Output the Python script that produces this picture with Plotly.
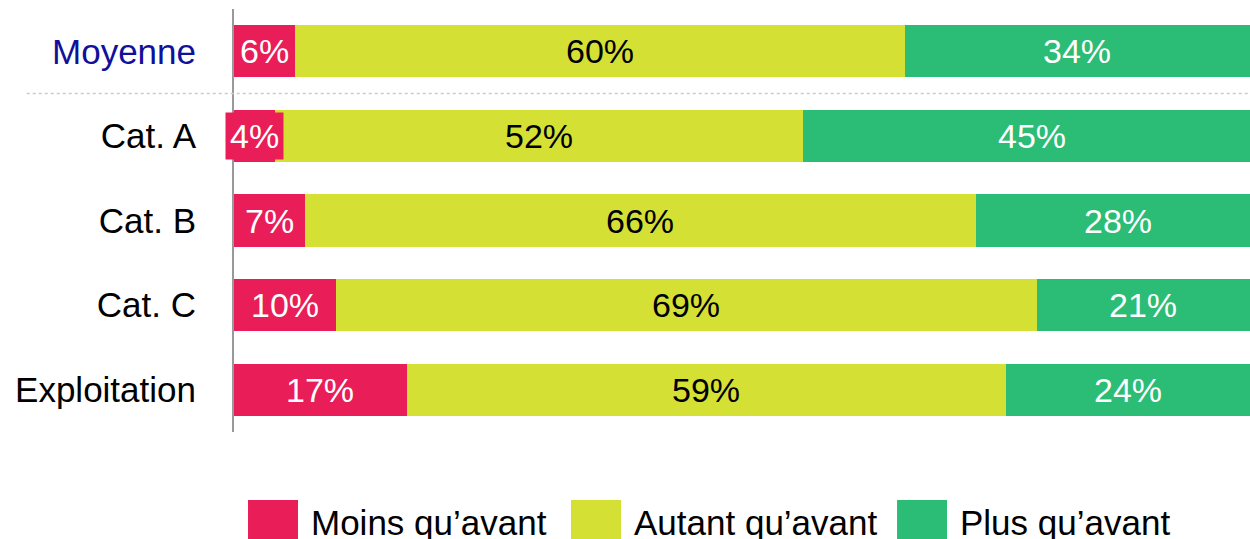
import plotly.graph_objects as go

categories = ["Moyenne", "Cat. A", "Cat. B", "Cat. C", "Exploitation"]
series_names = ["Moins qu\u2019avant", "Autant qu\u2019avant", "Plus qu\u2019avant"]
moins = [6, 4, 7, 10, 17]
autant = [60, 52, 66, 69, 59]
plus = [34, 45, 28, 21, 24]

colors = ["#E91D58", "#D5E035", "#2BBC75"]
text_colors = ["white", "black", "white"]
FONT = "Liberation Sans, Arial, sans-serif"
FS = 35
VFS = 34

series = [moins, autant, plus]

fig = go.Figure()
for name, vals, col in zip(series_names, series, colors):
    fig.add_trace(go.Bar(
        y=categories, x=vals, name=name, orientation="h",
        marker=dict(color=col, line=dict(width=0)),
        showlegend=False, hoverinfo="x+name",
    ))

# value labels centred on each segment
annotations = []
for i, cat in enumerate(categories):
    start = 0
    for s, (vals, col, tc) in enumerate(zip(series, colors, text_colors)):
        v = vals[i]
        annotations.append(dict(
            x=start + v / 2, y=cat, xref="x", yref="y",
            text=f"{v}%", showarrow=False,
            font=dict(family=FONT, size=VFS, color=tc),
            bgcolor=col if s == 0 else None, borderpad=4,
        ))
        start += v

# custom legend
leg_x = [0.0138, 0.3317, 0.6526]
sq_w = 0.0492
for name, col, lx in zip(series_names, colors, leg_x):
    fig.add_shape(type="rect", xref="paper", yref="paper",
                  x0=lx, x1=lx + sq_w, y0=-0.26, y1=-0.161,
                  fillcolor=col, line=dict(width=0))
    annotations.append(dict(
        x=lx + sq_w + 0.011, y=-0.213, xref="paper", yref="paper",
        xanchor="left", yanchor="middle", text=name, showarrow=False,
        font=dict(family=FONT, size=FS, color="black"),
    ))

# dotted separator between Moyenne and the categories
fig.add_shape(type="line", xref="paper", yref="y",
              x0=-0.204, x1=1, y0=0.5, y1=0.5,
              line=dict(color="#CCCCCC", width=1.5, dash="dot"))

ticktext = ["<span style='color:#10109A'>Moyenne</span>"] + categories[1:]

fig.update_layout(
    barmode="stack",
    bargap=0.385,
    width=1250, height=539,
    margin=dict(l=234, r=0, t=9, b=107),
    plot_bgcolor="white", paper_bgcolor="white",
    font=dict(family=FONT, size=FS, color="black"),
    annotations=annotations,
    xaxis=dict(range=[0, 100], visible=False, fixedrange=True),
    yaxis=dict(
        autorange="reversed", tickvals=categories, ticktext=ticktext,
        showline=True, linecolor="#999999", linewidth=2,
        showgrid=False, zeroline=False, ticks="",
        ticklabelstandoff=29,
        tickfont=dict(family=FONT, size=FS, color="black"),
    ),
)

fig.write_html(
    "out.html",
    config={"displayModeBar": False},
    post_script="document.body.style.margin='0';document.body.style.overflow='hidden';",
)
